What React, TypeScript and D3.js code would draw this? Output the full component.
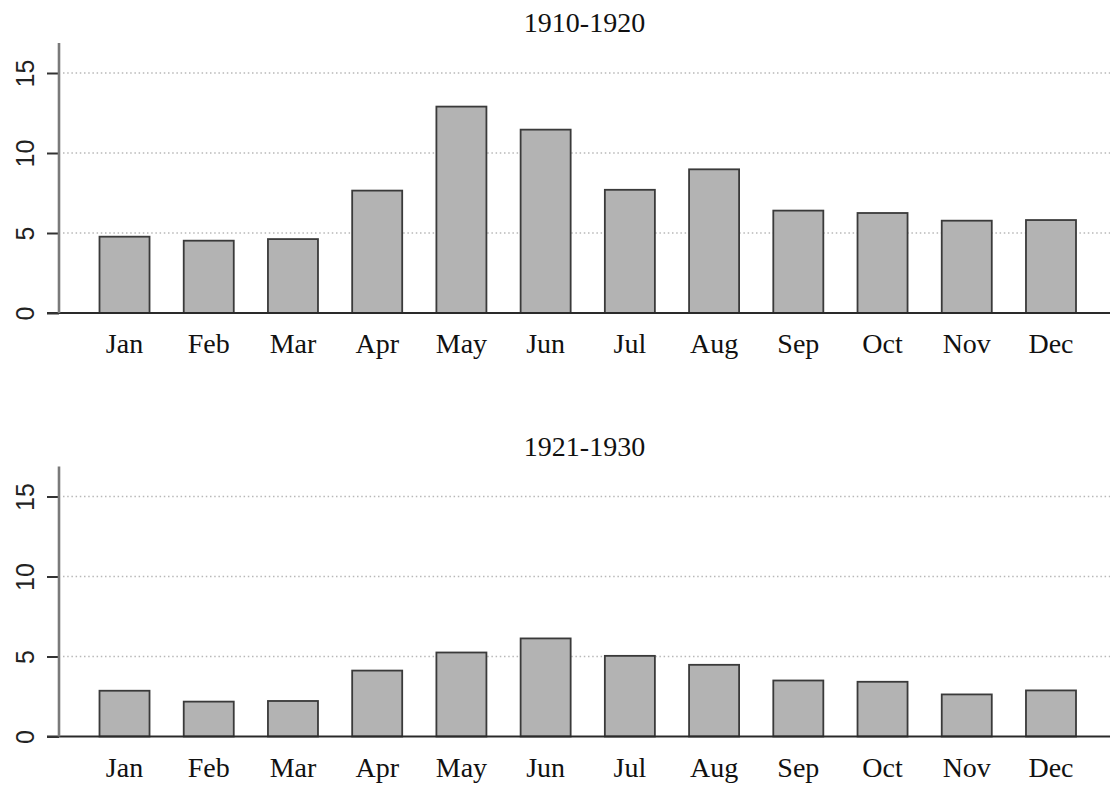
import React, { useRef, useEffect } from 'react';
import { select, scaleBand, scaleLinear, axisLeft, axisBottom } from 'd3';

const months = ['Jan', 'Feb', 'Mar', 'Apr', 'May', 'Jun', 'Jul', 'Aug', 'Sep', 'Oct', 'Nov', 'Dec'];
const values1910 = [4.77, 4.52, 4.62, 7.65, 12.9, 11.46, 7.7, 8.98, 6.4, 6.25, 5.77, 5.81];
const values1921 = [2.86, 2.18, 2.22, 4.12, 5.25, 6.13, 5.04, 4.48, 3.5, 3.42, 2.63, 2.88];
const yTicks = [0, 5, 10, 15];
const panels = [
  { title: '1910-1920', values: values1910 },
  { title: '1921-1930', values: values1921 },
];

function App() {
  const rootRef = useRef<SVGSVGElement>(null);
  const width = 1110;
  const height = 785;
  const axisX = 59;

  useEffect(() => {
    const root = select(rootRef.current);
    root.selectAll('*').remove();

    const x = scaleBand()
      .domain(months)
      .range([99.5, 1076])
      .paddingInner(0.406)
      .paddingOuter(0);

    panels.forEach((p, i) => {
      const base = 313 + i * 423.5;
      const y = scaleLinear().domain([0, 16.875]).range([base, base - 270]);
      const g = root.append('g');

      // title
      g.append('text')
        .attr('x', (axisX + width) / 2)
        .attr('y', base - 281)
        .attr('text-anchor', 'middle')
        .style('font-family', '"Liberation Serif", "Times New Roman", serif')
        .style('font-size', '28px')
        .attr('fill', '#111')
        .text(p.title);

      // dotted grid
      g.append('g')
        .selectAll('line')
        .data(yTicks.filter(t => t > 0))
        .join('line')
        .attr('x1', 63)
        .attr('x2', width)
        .attr('y1', d => y(d))
        .attr('y2', d => y(d))
        .attr('stroke', '#b8b8b8')
        .attr('stroke-width', 1.5)
        .attr('stroke-dasharray', '1.5 2.7');

      // bars
      g.append('g')
        .selectAll('rect')
        .data(p.values)
        .join('rect')
        .attr('x', (d, j) => x(months[j]) as number)
        .attr('y', d => y(d))
        .attr('width', x.bandwidth())
        .attr('height', d => base - y(d))
        .attr('fill', '#b3b3b3')
        .attr('stroke', '#3a3a3a')
        .attr('stroke-width', 1.8);

      // baseline
      g.append('line')
        .attr('x1', 47)
        .attr('x2', width)
        .attr('y1', base)
        .attr('y2', base)
        .attr('stroke', '#2a2a2a')
        .attr('stroke-width', 2);

      // y axis
      const yAxis = axisLeft(y).tickValues(yTicks).tickSize(12).tickSizeOuter(0);
      const ga = g.append('g').attr('transform', `translate(${axisX},0)`).call(yAxis);
      ga.select('.domain').remove();
      ga.selectAll('.tick line').attr('stroke', '#333').attr('stroke-width', 2);
      ga.selectAll('.tick text')
        .attr('transform', 'translate(-25,0) rotate(-90)')
        .attr('x', 0)
        .attr('y', 0)
        .attr('dy', 0)
        .attr('text-anchor', 'middle')
        .attr('fill', '#222')
        .style('font-family', '"Liberation Sans", Arial, sans-serif')
        .style('font-size', '25px');
      g.append('line')
        .attr('x1', axisX)
        .attr('x2', axisX)
        .attr('y1', base)
        .attr('y2', y(16.875))
        .attr('stroke', '#7a7a7a')
        .attr('stroke-width', 2.6);

      // x labels
      const xAxis = axisBottom(x).tickSize(0);
      const gx = g.append('g').attr('transform', `translate(0,${base})`).call(xAxis);
      gx.select('.domain').remove();
      gx.selectAll('.tick text')
        .attr('y', 40)
        .attr('dy', 0)
        .attr('fill', '#111')
        .style('font-family', '"Liberation Serif", "Times New Roman", serif')
        .style('font-size', '28px');
    });
  });

  return (
    <div style={{ position: 'absolute', left: 0, top: 0, background: '#fff' }}>
      <svg width={width} height={height} ref={rootRef} style={{ display: 'block' }}></svg>
    </div>
  );
}

export default App;
